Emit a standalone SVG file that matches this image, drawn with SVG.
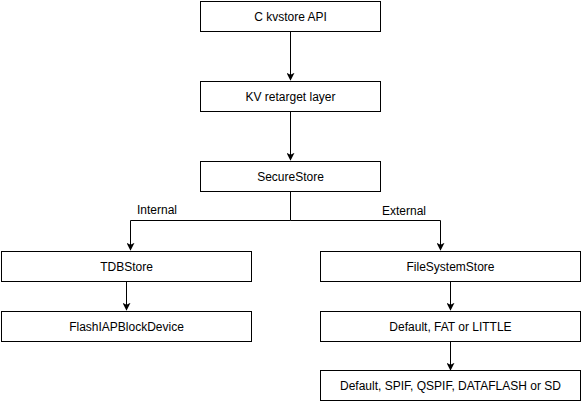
<svg xmlns="http://www.w3.org/2000/svg" width="581" height="401" viewBox="0 0 581 401">
<style>
.box{fill:#fff;stroke:#000;stroke-width:1}
.t{font-family:"Liberation Sans",Arial,sans-serif;font-size:12px;fill:#000;text-anchor:middle;dominant-baseline:central}
.c{fill:none;stroke:#000;stroke-width:1}
</style>
<defs>
<marker id="a" viewBox="0 0 10 10" refX="9" refY="5" markerWidth="8" markerHeight="8" markerUnits="userSpaceOnUse" orient="auto">
<path d="M0,0 L10,5 L0,10 L2.5,5 z" fill="#000"/>
</marker>
</defs>
<rect width="581" height="401" fill="#fff"/>
<g id="connectors">
<path class="c" d="M290.5,31.5 V80" marker-end="url(#a)"/>
<path class="c" d="M290.5,111.5 V160" marker-end="url(#a)"/>
<path class="c" d="M290.5,191.5 V220.5 H130.5 V250" marker-end="url(#a)"/>
<path class="c" d="M290.5,220.5 H440.5 V250" marker-end="url(#a)"/>
<path class="c" d="M126.5,281.5 V310" marker-end="url(#a)"/>
<path class="c" d="M450.5,281.5 V310" marker-end="url(#a)"/>
<path class="c" d="M450.5,341.5 V370" marker-end="url(#a)"/>
<text class="t" x="157" y="210">Internal</text>
<text class="t" x="404" y="211">External</text>
</g>
<g id="kvstore"><rect class="box" x="200.5" y="1.5" width="180" height="30"/><text class="t" x="290.5" y="16.5">C kvstore API</text></g>
<g id="retarget"><rect class="box" x="200.5" y="81.5" width="180" height="30"/><text class="t" x="290.5" y="96.5">KV retarget layer</text></g>
<g id="securestore"><rect class="box" x="200.5" y="161.5" width="180" height="30"/><text class="t" x="290.5" y="176.5">SecureStore</text></g>
<g id="tdbstore"><rect class="box" x="1.5" y="251.5" width="250" height="30"/><text class="t" x="126.5" y="266.5">TDBStore</text></g>
<g id="fsstore"><rect class="box" x="320.5" y="251.5" width="260" height="30"/><text class="t" x="450.5" y="266.5">FileSystemStore</text></g>
<g id="flashiap"><rect class="box" x="1.5" y="311.5" width="250" height="30"/><text class="t" x="126.5" y="326.5">FlashIAPBlockDevice</text></g>
<g id="fs"><rect class="box" x="320.5" y="311.5" width="260" height="30"/><text class="t" x="450.5" y="326.5">Default, FAT or LITTLE</text></g>
<g id="bd"><rect class="box" x="320.5" y="370.5" width="260" height="30"/><text class="t" x="450.5" y="385.5">Default, SPIF, QSPIF, DATAFLASH or SD</text></g>
</svg>
